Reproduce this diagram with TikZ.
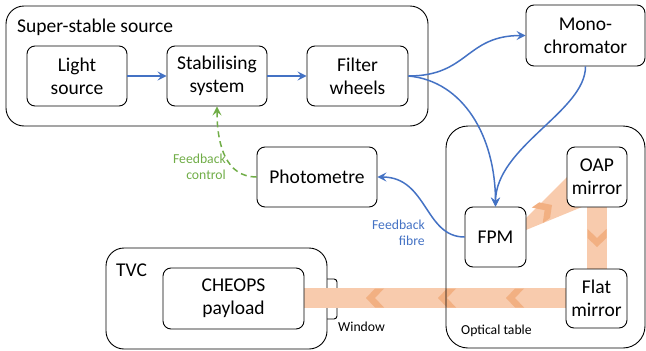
\documentclass[tikz,border=0pt]{standalone}
\usepackage{fontspec}
\setmainfont{Carlito}
\usetikzlibrary{arrows.meta}
\definecolor{c4472c4}{RGB}{68,114,196}
\definecolor{c70ad47}{RGB}{112,173,71}
\definecolor{cf8cbad}{RGB}{248,203,173}
\definecolor{cf4b183}{RGB}{242,176,130}

\tikzset{
  unit/.style={draw=black, line width=0.9pt, rounded corners=8pt, fill=white,
    align=center, inner sep=0pt, font=\fontsize{19.5}{23}\selectfont},
  group/.style={draw=black, line width=0.9pt, rounded corners=18pt},
  note/.style={inner sep=0pt, font=\fontsize{13.7}{16}\selectfont},
  fibre/.style={draw=c4472c4, line width=1.5pt,
    -{Stealth[length=9pt,width=9pt,inset=3.5pt]}},
  control/.style={draw=c70ad47, line width=1.5pt, dash pattern=on 6pt off 4pt,
    -{Stealth[length=9pt,width=9pt,inset=3.5pt]}},
  beam/.style={fill=cf8cbad},
  beamchev/.style={fill=cf4b183}
}
% chevron along the beam: #1 = tip, #2 = rotation
\newcommand{\chevron}[2]{%
  \path[beamchev, shift={#1}, rotate=#2]
    (0,0) -- (9,-9.5) -- (18,-9.5) -- (9,0) -- (18,9.5) -- (9,9.5) -- cycle;}

\begin{document}
\begin{tikzpicture}[x=1pt, y=1pt, yscale=-1]
  \useasboundingbox (0,0) rectangle (646,351);

  % containers
  \draw[group] (6,6) rectangle (428,126);
  \node[anchor=base west, inner sep=0pt, font=\fontsize{19.5}{23}\selectfont]
    (sourcelabel) at (17,32) {Super-stable source};
  \node[note, anchor=base west] (tablelabel) at (461,334) {Optical table};
  \draw[line width=0.9pt, rounded corners=3pt] (322,279) rectangle (337,319);
  \draw[group, fill=white] (106,248) rectangle (327,349);
  \node[anchor=base west, inner sep=0pt, font=\fontsize{19.5}{23}\selectfont]
    (tvclabel) at (116,276) {TVC};
  \node[note, anchor=base west] (windowlabel) at (338,331) {Window};

  % beam
  \path[beam] (304,288) rectangle (566,308);
  \path[beam] (587,207) rectangle (607,269);
  \path[beam] (526,218) -- (570,174) -- (582,207) -- (526,230) -- cycle;
  \chevron{(366,298)}{0}
  \chevron{(438,298)}{0}
  \chevron{(506,298)}{0}
  \chevron{(597,247)}{-90}
  \chevron{(552,205)}{145}
  \draw[group, rounded corners=22pt] (446,126) rectangle (645,348);

  % units
  \node[unit, minimum width=100pt, minimum height=60pt] (light) at (77,76) {Light\\source};
  \node[unit, minimum width=100pt, minimum height=60pt] (stab) at (217,76) {Stabilising\\system};
  \node[unit, minimum width=101pt, minimum height=60pt] (filter) at (357.5,76) {Filter\\wheels};
  \node[unit, minimum width=119pt, minimum height=61pt] (mono) at (585.5,35.5) {Mono-\\chromator};
  \node[unit, minimum width=120pt, minimum height=60pt] (photo) at (317,177) {Photometre};
  \node[unit, minimum width=61pt, minimum height=60pt] (fpm) at (495.5,237) {FPM};
  \node[unit, minimum width=60pt, minimum height=60pt] (oap) at (597,177) {OAP\\mirror};
  \node[unit, minimum width=61pt, minimum height=59pt] (flat) at (596.5,298.5) {Flat\\mirror};
  \node[unit, minimum width=141pt, minimum height=61pt] (cheops) at (233.5,298.5) {CHEOPS\\payload};

  % connections
  \draw[fibre] (light) -- (stab);
  \draw[fibre] (stab) -- (filter);
  \draw[fibre] (filter.east) .. controls +(60,0) and +(-60,0) .. (mono.west);
  \draw[fibre] (filter.east) .. controls +(55,5) and +(0,-70) .. (fpm.north);
  \draw[fibre] (mono.south) .. controls +(0,45) and +(0,-60) .. (fpm.north);
  \draw[fibre] (fpm.west) .. controls +(-40,0) and +(50,0) .. (photo.east);
  \draw[control] (photo.west) .. controls +(-30,0) and +(0,40) .. (stab.south);

  % labels
  \node[note, text=c4472c4, align=right, anchor=east] (fibrelabel) at (425,233) {Feedback\\fibre};
  \node[note, text=c70ad47, align=right, anchor=east] (controllabel) at (226,167) {Feedback\\control};
\end{tikzpicture}
\end{document}
